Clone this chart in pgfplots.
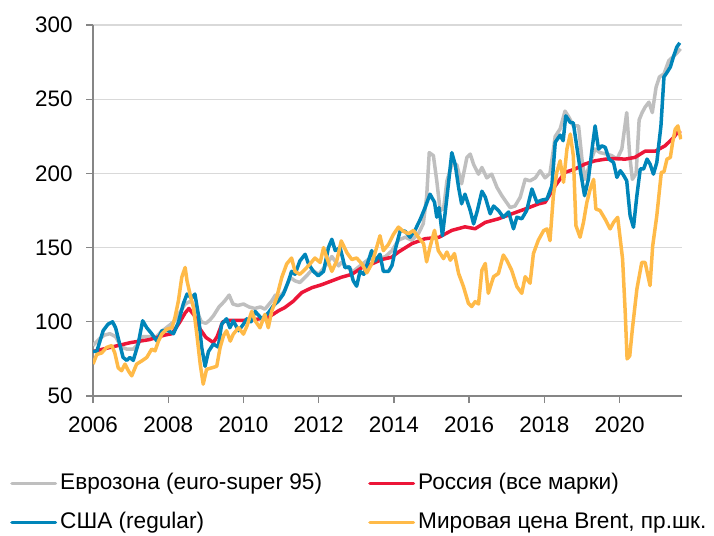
\documentclass[border=0pt]{standalone}
\usepackage{pgfplots}
\pgfplotsset{compat=1.18}
\usepackage{fontspec}
\setmainfont{Liberation Sans}
\definecolor{cgray}{HTML}{BFBFBF}
\definecolor{cred}{HTML}{EC1638}
\definecolor{cblue}{HTML}{0085B9}
\definecolor{corange}{HTML}{FFBA48}
\definecolor{axisgray}{HTML}{868686}
\definecolor{gridgray}{HTML}{D9D9D9}
\begin{document}
\begin{tikzpicture}
\path[use as bounding box] (0,0) rectangle (714bp,-536bp);
\begin{axis}[
  at={(93bp,-396bp)}, anchor=south west,
  scale only axis, width=589bp, height=371bp,
  xmin=2006, xmax=2021.66, ymin=50, ymax=300,
  xtick={2006,2008,...,2020}, ytick={50,100,...,300},
  axis x line*=bottom, axis y line*=left,
  axis line style={draw=axisgray, line width=1.3bp, -},
  tick style={draw=axisgray, line width=1.3bp},
  major tick length=7bp, tick align=outside,
  ymajorgrids, grid style={draw=gridgray, line width=1.3bp},
  ticklabel style={font=\fontsize{22.5}{27}\selectfont, text=black},
  y tick label style={xshift=-10bp},
  x tick label style={yshift=-10bp, /pgf/number format/1000 sep={}},
  /pgf/number format/assume math mode=true,
  legend columns=2, legend cell align=left,
  legend style={draw=none, fill=none, at={(-0.1409,-0.289)}, anchor=west,
    inner sep=0pt, column sep=2bp, row sep=15bp,
    font=\fontsize{22.7}{26}\selectfont,
    nodes={inner sep=1bp, text height=17bp, text depth=5bp}},
  legend image code/.code={\draw[#1, line width=3.5bp, line cap=round] (1.75bp,0bp) -- (45.25bp,0bp);},
  every axis plot/.append style={line width=3.5bp, line join=round, no markers},
]
\addplot[color=cgray] coordinates {
(2006.0,84) (2006.15,88) (2006.3,91) (2006.45,92) (2006.6,90) (2006.75,83) (2006.9,81.6) (2007.07,81.6) (2007.2,85) (2007.32,90) (2007.5,90) (2007.65,89) (2007.8,93) (2008.0,97) (2008.15,100) (2008.3,106) (2008.45,112) (2008.6,114) (2008.75,108) (2008.88,100) (2009.0,99) (2009.1,101) (2009.2,104) (2009.35,110) (2009.5,114) (2009.62,118) (2009.72,112) (2009.85,111) (2010.0,112) (2010.15,110) (2010.3,109) (2010.45,110) (2010.57,108.5) (2010.75,114) (2010.85,118) (2010.93,116) (2011.1,121) (2011.24,130) (2011.37,127.6) (2011.5,126.5) (2011.68,131) (2011.82,135) (2012.0,132) (2012.22,139) (2012.35,144) (2012.53,137.7) (2012.6,140) (2012.75,137) (2012.92,134) (2013.1,137.7) (2013.32,142) (2013.59,143) (2013.77,143.8) (2013.95,148) (2014.12,155) (2014.3,157) (2014.48,155) (2014.65,159.4) (2014.78,166) (2014.87,184) (2014.94,214) (2015.05,212) (2015.14,195) (2015.23,175) (2015.32,176) (2015.41,195) (2015.54,206) (2015.67,206) (2015.8,193) (2015.94,210.7) (2016.03,213) (2016.12,206) (2016.25,199.5) (2016.34,204) (2016.47,197) (2016.6,199.5) (2016.74,190.6) (2016.87,185) (2016.96,181.7) (2017.09,177) (2017.22,178) (2017.36,184) (2017.49,196) (2017.62,195) (2017.76,197) (2017.89,201.8) (2018.02,197) (2018.15,200) (2018.29,225) (2018.42,230) (2018.55,242) (2018.65,238) (2018.77,232) (2018.91,232) (2019.0,209.6) (2019.08,196) (2019.22,207.4) (2019.35,216.4) (2019.48,214) (2019.66,213) (2019.79,212) (2019.93,209.6) (2020.06,216.4) (2020.19,241) (2020.27,212) (2020.34,196) (2020.44,200) (2020.52,236) (2020.6,241) (2020.68,244.7) (2020.78,248) (2020.87,241) (2020.97,258) (2021.06,265) (2021.18,267) (2021.31,276) (2021.44,279) (2021.52,281) (2021.62,284)
};
\addlegendentry{\makebox[305bp][l]{Еврозона (euro-super 95)}}
\addplot[color=cred] coordinates {
(2006.0,80) (2006.5,83) (2007.0,86) (2007.5,88) (2007.9,91) (2008.1,92) (2008.3,99.5) (2008.45,106) (2008.55,109) (2008.7,104) (2008.85,95) (2009.0,89.5) (2009.2,86) (2009.3,90) (2009.45,100) (2009.6,101) (2009.8,101) (2010.0,101) (2010.3,101.5) (2010.66,103) (2010.93,107.4) (2011.1,109.6) (2011.33,114) (2011.55,119.7) (2011.82,123) (2012.08,125) (2012.35,127.6) (2012.6,130) (2012.88,132) (2013.15,136.5) (2013.41,139) (2013.68,142) (2013.94,143.5) (2014.12,147) (2014.48,152.7) (2014.83,156) (2015.2,157) (2015.54,161.6) (2015.89,164) (2016.16,162.7) (2016.43,167) (2016.78,169.4) (2017.14,172.8) (2017.49,176) (2017.85,179.5) (2018.02,180.5) (2018.29,191.7) (2018.55,200.7) (2018.82,203) (2019.08,206.3) (2019.35,208.5) (2019.62,209.6) (2019.88,210) (2020.15,209.6) (2020.41,210.8) (2020.68,215) (2020.95,215) (2021.21,218.6) (2021.43,224) (2021.55,228) (2021.63,227)
};
\addlegendentry{Россия (все марки)}
\addplot[color=cblue] coordinates {
(2006.0,80) (2006.1,80) (2006.27,94) (2006.4,98.4) (2006.52,100) (2006.6,96) (2006.72,84) (2006.8,76) (2006.9,74) (2006.98,76) (2007.07,74) (2007.2,85) (2007.32,100.7) (2007.43,96) (2007.56,92) (2007.7,87) (2007.83,94) (2008.0,94) (2008.14,92) (2008.27,99.6) (2008.4,112) (2008.5,118.7) (2008.62,116) (2008.71,118.7) (2008.8,105) (2008.89,82.7) (2008.98,70) (2009.07,80) (2009.2,85) (2009.33,83) (2009.42,98.4) (2009.55,102) (2009.64,96) (2009.73,100.7) (2009.87,94) (2010.0,98.4) (2010.09,102) (2010.2,100) (2010.31,107) (2010.49,102) (2010.66,106) (2010.8,111) (2010.93,114) (2011.06,118.6) (2011.2,127.6) (2011.28,134) (2011.37,132) (2011.5,141) (2011.64,145.5) (2011.73,139) (2011.86,134) (2011.99,131) (2012.13,134) (2012.26,150) (2012.35,155.6) (2012.44,148) (2012.57,150) (2012.7,136.5) (2012.82,137) (2012.92,127.6) (2013.01,124) (2013.1,134) (2013.2,132) (2013.32,141) (2013.41,148) (2013.5,141) (2013.63,145.5) (2013.72,134) (2013.86,134) (2013.95,138) (2014.05,150) (2014.17,161.6) (2014.3,161) (2014.43,157) (2014.56,161.6) (2014.7,169) (2014.83,177) (2014.96,186) (2015.08,180.6) (2015.14,170.5) (2015.2,177) (2015.29,158) (2015.36,172.8) (2015.45,193) (2015.54,214) (2015.63,206) (2015.72,190.6) (2015.8,179.5) (2015.89,186) (2016.03,175) (2016.12,166) (2016.22,175) (2016.34,188) (2016.43,184) (2016.56,172.8) (2016.65,178) (2016.78,175) (2016.91,170.5) (2017.05,174) (2017.18,162.7) (2017.27,170.5) (2017.4,169.4) (2017.53,175) (2017.67,189.5) (2017.8,180.6) (2017.93,182) (2018.07,182.7) (2018.2,191.7) (2018.29,221) (2018.42,225.8) (2018.5,222) (2018.57,238.8) (2018.69,234.3) (2018.77,234) (2018.86,218.6) (2018.95,203) (2019.07,185) (2019.17,196) (2019.28,218.6) (2019.35,232) (2019.44,216.4) (2019.53,218.6) (2019.62,217.5) (2019.72,209.6) (2019.84,207.4) (2019.93,197.3) (2020.02,201.8) (2020.1,199) (2020.19,195) (2020.28,171.5) (2020.37,163.7) (2020.46,185) (2020.55,203) (2020.64,203) (2020.73,209.6) (2020.81,206.3) (2020.9,199.5) (2020.99,207.4) (2021.05,221) (2021.1,232) (2021.18,265) (2021.26,268) (2021.35,271.7) (2021.43,278.4) (2021.52,285) (2021.6,288)
};
\addlegendentry{США (regular)}
\addplot[color=corange] coordinates {
(2006.0,71.5) (2006.1,78) (2006.23,79) (2006.36,82.7) (2006.5,84) (2006.58,79) (2006.67,69) (2006.76,67) (2006.85,71.5) (2006.94,67) (2007.03,63.6) (2007.16,71.5) (2007.3,73.7) (2007.43,76) (2007.56,81.6) (2007.65,80.4) (2007.74,87) (2007.83,91.7) (2007.96,95) (2008.1,96) (2008.18,103) (2008.27,114) (2008.36,130) (2008.45,136.6) (2008.5,127.6) (2008.58,118.7) (2008.67,109.7) (2008.76,91.7) (2008.85,71.5) (2008.93,58) (2009.02,68) (2009.16,69) (2009.29,70) (2009.38,82.7) (2009.47,90.6) (2009.55,94) (2009.65,87) (2009.73,91.7) (2009.87,96) (2010.0,91.7) (2010.09,97) (2010.22,107) (2010.31,100.7) (2010.44,96) (2010.57,105) (2010.66,96) (2010.75,107) (2010.88,116) (2011.02,130) (2011.15,139) (2011.28,143) (2011.37,134) (2011.5,132) (2011.64,135.4) (2011.77,139) (2011.9,143) (2012.04,140) (2012.13,150) (2012.22,143) (2012.35,134) (2012.48,141) (2012.6,154.5) (2012.75,146.6) (2012.88,142) (2013.01,143) (2013.15,139) (2013.28,133) (2013.41,139) (2013.54,150) (2013.63,158) (2013.72,148) (2013.85,152) (2013.99,159) (2014.12,163.8) (2014.25,161) (2014.39,159.4) (2014.52,161.6) (2014.65,157) (2014.79,152.7) (2014.87,140.4) (2014.96,150.4) (2015.08,161.6) (2015.18,148) (2015.32,142.6) (2015.41,147) (2015.5,141.5) (2015.61,146) (2015.72,132.6) (2015.85,123.7) (2015.98,112.5) (2016.07,110.3) (2016.16,113.6) (2016.25,112) (2016.34,134.8) (2016.43,139.3) (2016.51,119.2) (2016.65,130.4) (2016.78,132.6) (2016.91,145) (2017.0,141.5) (2017.13,134.8) (2017.27,123.7) (2017.4,119.2) (2017.49,130.4) (2017.62,126) (2017.71,146) (2017.84,155) (2017.98,161.4) (2018.07,162.6) (2018.15,154.7) (2018.24,185) (2018.33,200.7) (2018.42,208.5) (2018.51,194) (2018.6,216.4) (2018.69,226.5) (2018.77,212) (2018.84,164.8) (2018.95,157) (2019.04,167) (2019.13,180.5) (2019.22,189.5) (2019.31,196) (2019.37,176) (2019.48,175) (2019.62,169) (2019.75,162.6) (2019.84,167) (2019.95,170.4) (2020.08,142.4) (2020.15,106.5) (2020.2,75) (2020.27,77) (2020.34,95) (2020.46,122) (2020.59,140) (2020.68,140) (2020.81,124.4) (2020.88,151) (2020.99,171.5) (2021.11,200.7) (2021.18,201) (2021.26,209.6) (2021.35,210.8) (2021.41,220.8) (2021.48,229.8) (2021.55,232) (2021.63,223)
};
\addlegendentry{Мировая цена Brent, пр.шк.}
\end{axis}
\end{tikzpicture}
\end{document}
